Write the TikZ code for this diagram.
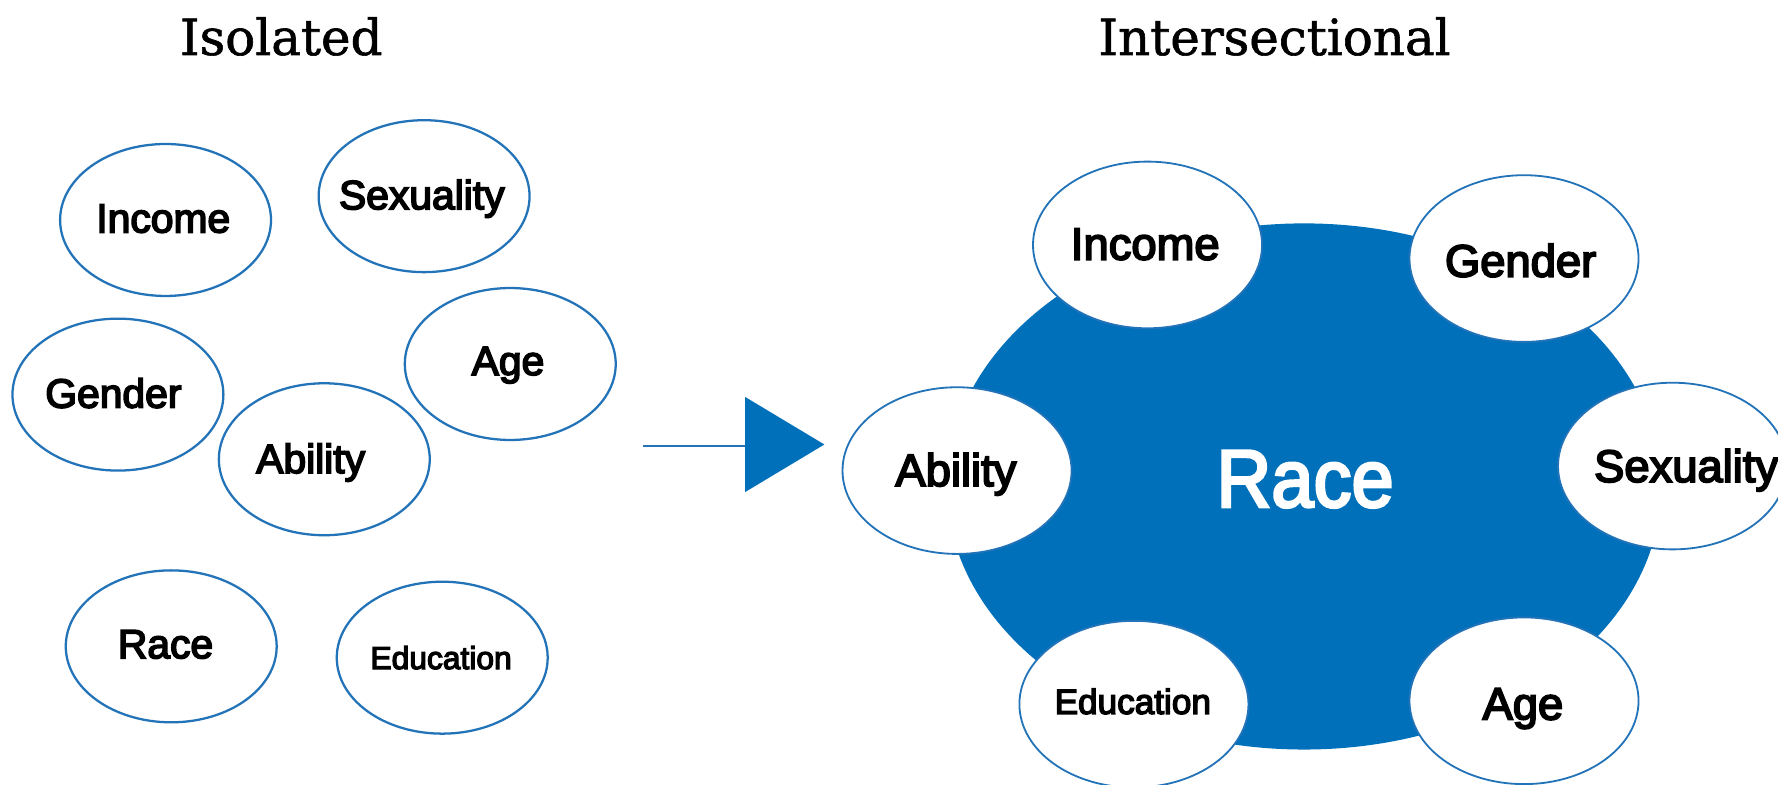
\documentclass[tikz,border=0pt]{standalone}
\usepackage{fontspec}
\setmainfont{Liberation Sans}
\newfontfamily\bubfont{Liberation Sans}[FakeBold=4]
\newfontfamily\titlefont{DejaVu Serif}[FakeBold=1.2]
\newfontfamily\racefont{Liberation Sans}[FakeBold=3.5]
\usetikzlibrary{shapes.geometric}
\definecolor{fillblue}{RGB}{0,112,186}
\definecolor{lineblue}{RGB}{35,115,185}
\tikzset{
  bubL/.style={ellipse, draw=lineblue, line width=2pt, fill=white, minimum width=186pt, minimum height=134pt, inner sep=0pt},
  bubR/.style={ellipse, draw=lineblue, line width=1.6pt, fill=white, minimum width=202pt, minimum height=147pt, inner sep=0pt},
  bigbub/.style={ellipse, fill=fillblue, minimum width=630pt, minimum height=464pt, inner sep=0pt},
  labL/.style={anchor=base, inner sep=0pt, font=\bubfont\fontsize{36}{36}\selectfont},
  labLs/.style={anchor=base, inner sep=0pt, font=\bubfont\fontsize{28}{28}\selectfont},
  labR/.style={anchor=base, inner sep=0pt, font=\bubfont\fontsize{40}{40}\selectfont},
  labRs/.style={anchor=base, inner sep=0pt, font=\bubfont\fontsize{31}{31}\selectfont},
  ttl/.style={anchor=base, inner sep=0pt, font=\titlefont\fontsize{44}{44}\selectfont},
}
\begin{document}
\begin{tikzpicture}[x=1pt,y=-1pt]
\useasboundingbox[fill=white] (0,0) rectangle (1568,691.4);
% titles
\node[ttl] (t1) at (248,48.5) {Isolated};
\node[ttl] (t2) at (1124,48.5) {Intersectional};
% left isolated bubbles
\node[bubL] (lInc) at (146,194) {};
\node[bubL] (lSex) at (374,173) {};
\node[bubL] (lGen) at (104,348) {};
\node[bubL] (lAge) at (450,321) {};
\node[bubL] (lAbi) at (286,405) {};
\node[bubL] (lRac) at (151,570) {};
\node[bubL] (lEdu) at (390,580) {};
\node[labL] (tlInc) at (144,205) {Income};
\node[labL] (tlSex) at (372,184.5) {Sexuality};
\node[labL] (tlGen) at (100,359.5) {Gender};
\node[labL] (tlAge) at (448,330.7) {Age};
\node[labL] (tlAbi) at (274,417.2) {Ability};
\node[labL] (tlRac) at (146,580.5) {Race};
\node[labLs] (tlEdu) at (389,590) {Education};
% arrow
\coordinate (as) at (567,393);
\coordinate (ae) at (658,393);
\coordinate (tA) at (657,350);
\coordinate (tB) at (727,392);
\coordinate (tC) at (657,434);
\draw[lineblue, line width=1.8pt] (as) -- (ae);
\fill[fillblue] (tA) -- (tB) -- (tC) -- cycle;
% right intersectional
\node[bigbub] (big) at (1150,429) {};
\node[anchor=base, inner sep=0pt, text=white, font=\racefont\fontsize{72}{72}\selectfont] (tRace) at (1151,447) {\scalebox{0.93}[1]{Race}};
\node[bubR] (rInc) at (1012,216) {};
\node[bubR] (rGen) at (1344,228) {};
\node[bubR] (rAbi) at (844,415) {};
\node[bubR] (rSex) at (1475,411) {};
\node[bubR] (rAge) at (1344,618) {};
\node[bubR] (rEdu) at (1000,621) {};
\node[labR] (trInc) at (1010,229) {Income};
\node[labR] (trGen) at (1341,244) {Gender};
\node[labR] (trAbi) at (843,428.6) {Ability};
\node[labR] (trSex) at (1487,425) {Sexuality};
\node[labR] (trAge) at (1343,634.5) {Age};
\node[labRs] (trEdu) at (999,629.6) {Education};
\end{tikzpicture}
\end{document}
